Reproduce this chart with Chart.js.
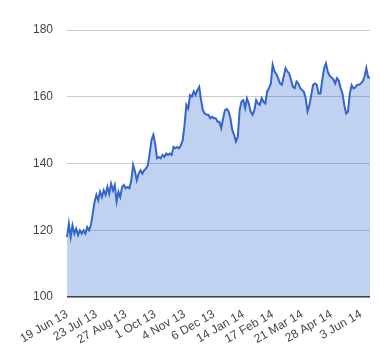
<!DOCTYPE html>
<html>
<head>
<meta charset="utf-8">
<script src="https://cdn.jsdelivr.net/npm/chart.js@4/dist/chart.umd.min.js"></script>
<style>
html,body{margin:0;padding:0;background:#fff;}
#wrap{width:380px;height:360px;}
</style>
</head>
<body>
<div id="wrap"><canvas id="c" width="380" height="360"></canvas></div>
<script>
const tickLabels = ["19 Jun 13","23 Jul 13","27 Aug 13","1 Oct 13","4 Nov 13","6 Dec 13","14 Jan 14","17 Feb 14","21 Mar 14","28 Apr 14","3 Jun 14"];
const pointsPerTick = 16;
const values = [
118,122,118,121.5,119,120.5,118.6,120,119,120,119,121,120,121.6,125,128.5,
130.6,129,131.6,130,132,130.6,133,131,134,132,133.6,128.6,131.6,130,133,133.6,
132.6,133,132.6,135,139.6,137.6,135,137,138,137,138,138.5,139.5,143,147,148.6,
146,141.6,142,141.6,142.6,142,143,142.6,143,142.6,145,144.6,145,144.6,145.5,147,
151.5,157.6,156.5,160.5,160,161.6,160.6,162,163,159,156,155,154.6,154.6,153.6,154,
153.6,153.6,152.5,152.5,150.6,153.5,156,156.3,155.6,153.5,150,148.6,146.6,148,156,158.6,
159,156.6,159.5,158,155.6,154.6,156,159,158,157.6,159.6,158.5,158,161.6,162.6,164,
169.6,167.6,166.8,165.5,164,163.6,166,168.6,167.6,167,165,163,162.6,164.6,164,162.6,
162,161.5,159.5,155.6,157.5,160.5,163.6,164,163.6,161,161,165,168.5,170,167.5,166.3,
165.8,165.3,164,165.6,164.8,162.6,161,157.5,155,155.5,161,163.5,162.5,162.8,163.6,163.6,
164,164.6,166,168.6,165.8,165.8
];
const yTicks = [100,120,140,160,180];
const categories = values.map((v,i)=> i % pointsPerTick === 0 ? (tickLabels[i/pointsPerTick] || '') : '');

new Chart(document.getElementById('c'), {
  type: 'line',
  data: {
    labels: categories,
    datasets: [{
      data: values,
      borderColor: '#3366cc',
      backgroundColor: 'rgba(51,102,204,0.3)',
      borderWidth: 2,
      pointRadius: 0,
      tension: 0,
      fill: 'start'
    }]
  },
  options: {
    responsive: false,
    animation: false,
    layout: { padding: { top: 30, right: 10, left: 19, bottom: 11 } },
    plugins: { legend: { display: false }, tooltip: { enabled: false } },
    scales: {
      x: {
        offset: false,
        grid: { display: false },
        border: { display: false },
        ticks: {
          autoSkip: false,
          minRotation: 30,
          maxRotation: 30,
          padding: 2,
          color: '#444',
          font: { family: 'Liberation Sans, Arial, sans-serif', size: 12 },
          callback: function(v, i){ return categories[i] === '' ? null : categories[i]; }
        }
      },
      y: {
        min: 100, max: 180,
        afterBuildTicks: function(ax){ ax.ticks = yTicks.map(v=>({value:v})); },
        border: { display: false },
        grid: {
          drawTicks: false,
          color: function(ctx){ return ctx.tick && ctx.tick.value === 100 ? '#333' : '#cccccc'; },
          lineWidth: function(ctx){ return ctx.tick && ctx.tick.value === 100 ? 1.5 : 1; }
        },
        ticks: {
          padding: 14,
          color: '#444',
          font: { family: 'Liberation Sans, Arial, sans-serif', size: 12 }
        }
      }
    }
  }
});
</script>
</body>
</html>
